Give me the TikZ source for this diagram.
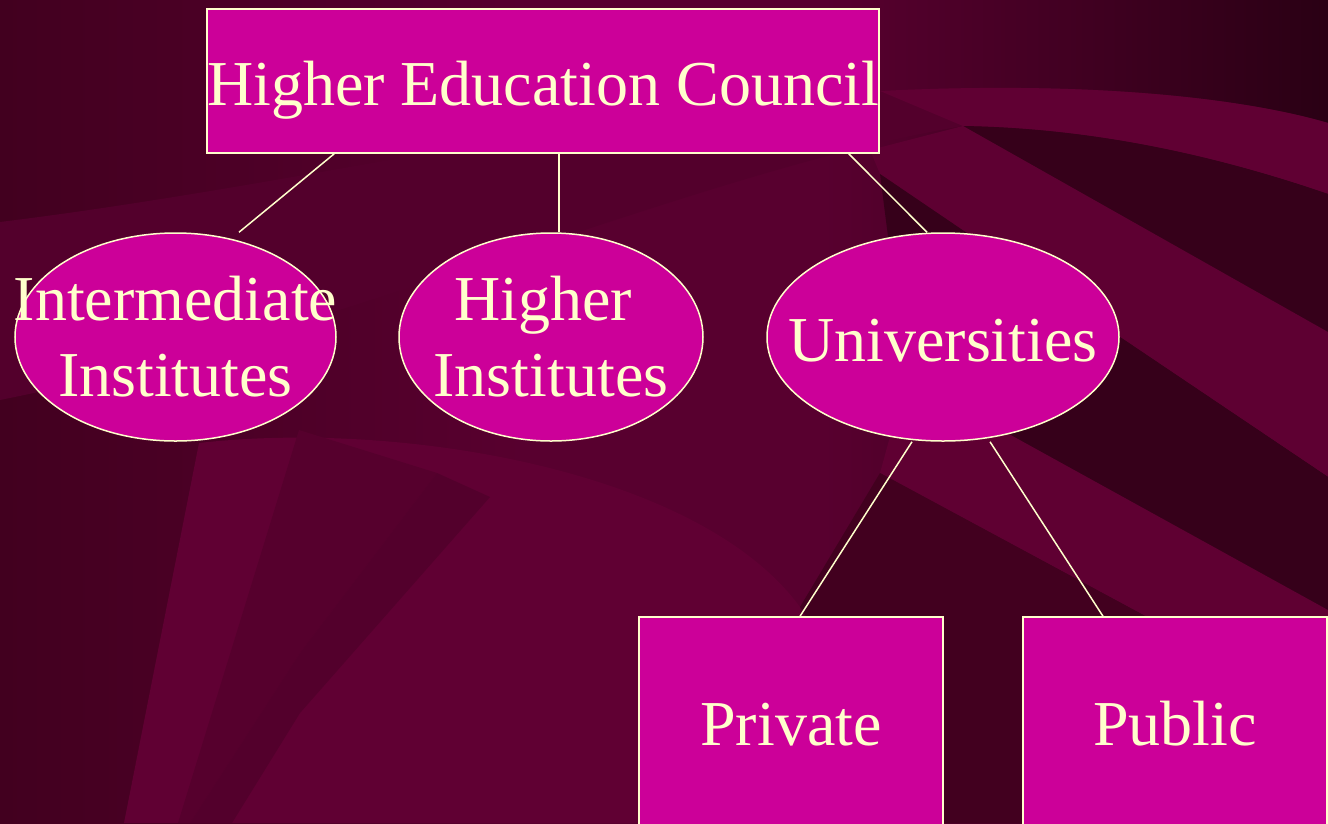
\documentclass[tikz,border=0pt]{standalone}
\usepackage{fontspec}
\setmainfont{Liberation Serif}
\usetikzlibrary{shapes.geometric}
\definecolor{boxfill}{HTML}{CC0099}
\definecolor{cream}{HTML}{FFFFCC}
\definecolor{bgL}{HTML}{42001F}
\definecolor{bgM}{HTML}{58002F}
\definecolor{bgR}{HTML}{2A0014}
\definecolor{bgLite}{HTML}{600033}
\definecolor{bgMid}{HTML}{53002C}
\definecolor{bgDark}{HTML}{36001A}
\pgfdeclarehorizontalshading{bgshade}{100bp}{color(0bp)=(bgL); color(25bp)=(bgL); color(45bp)=(bgM); color(56bp)=(bgM); color(75bp)=(bgR); color(100bp)=(bgR)}
\newcommand\diagfont{\fontsize{64}{76}\selectfont}
\tikzset{
  boxnode/.style={rectangle, draw=cream, line width=1.5pt, fill=boxfill, text=cream, inner sep=0pt, font=\diagfont},
  ovalnode/.style={ellipse, draw=cream, line width=1.5pt, fill=boxfill, inner sep=0pt},
  ovaltext/.style={text=cream, inner sep=0pt, font=\diagfont, align=center},
  link/.style={draw=cream, line width=1.5pt},
}
\begin{document}
\begin{tikzpicture}[x=1pt,y=-1pt]
\useasboundingbox (0,0) rectangle (1328,823);
% ---------- background ----------
\shade[shading=bgshade] (0,0) rectangle (1328,823);
% wide swoosh from the left up to the top right
\fill[bgMid] (0,222) .. controls (300,185) and (600,110) .. (880,91)
  .. controls (1100,80) and (1250,100) .. (1328,123) -- (1328,194)
  .. controls (1200,150) and (1080,128) .. (963,126)
  .. controls (700,170) and (350,330) .. (0,400) -- cycle;
\fill[bgLite] (880,91) .. controls (1100,80) and (1250,100) .. (1328,123) -- (1328,194)
  .. controls (1200,150) and (1080,128) .. (963,126) -- cycle;
% dark wedge under the swoosh
\fill[bgDark] (963,126) .. controls (1080,128) and (1200,150) .. (1328,194) -- (1328,332) -- cycle;
% diagonal light band
\fill[bgLite!85!bgMid] (870,150) -- (963,126) -- (1328,332) -- (1328,477) -- (1120,337) -- (880,174) -- cycle;
% dark stripe
\fill[bgDark] (880,174) -- (1120,337) -- (1328,477) -- (1328,610) -- (1007,433) -- (900,330) -- cycle;
% light band below
\fill[bgLite!90!bgMid] (900,400) -- (1007,433) -- (1328,610) -- (1328,717) -- (1147,617) -- (880,473) -- cycle;
% dark area lower right
\fill[bgL] (880,473) -- (1147,617) -- (1328,717) -- (1328,823) -- (943,823) -- (800,607) -- cycle;
% lower left fan
\fill[bgLite] (199,443) .. controls (400,420) and (700,470) .. (800,607) -- (800,823) -- (124,823) -- cycle;
\fill[bgMid!80!bgLite] (299,430) -- (437,473) -- (300,653) -- (190,823) -- (178,823) -- cycle;
\fill[bgMid] (437,473) -- (490,497) -- (300,713) -- (232,823) -- (190,823) -- (300,653) -- cycle;
% ---------- nodes ----------
\node[boxnode, minimum width=672pt, minimum height=144pt, text height=48pt, text depth=0pt] (hec) at (543,81) {Higher Education Council};
\node[ovalnode, minimum width=321pt, minimum height=208pt] (inter) at (175.5,337) {};
\node[ovaltext] (intertext) at (inter.center) {Intermediate\\Institutes};
\node[ovalnode, minimum width=304pt, minimum height=208pt] (higher) at (551,337) {};
\node[ovaltext] (highertext) at (higher.center) {Higher\hspace*{16pt}\\Institutes};
\node[ovalnode, minimum width=352pt, minimum height=208pt] (univ) at (943,337) {};
\node[ovaltext, text height=48pt, text depth=0pt] (univtext) at (univ.center) {Universities};
\node[boxnode, minimum width=304pt, minimum height=209pt, text height=48pt, text depth=0pt] (private) at (791,721.5) {Private};
\node[boxnode, minimum width=304pt, minimum height=209pt, text height=48pt, text depth=0pt] (public) at (1175,721.5) {Public};
% ---------- connectors ----------
\draw[link] ([xshift=128pt]hec.south west) -- ([xshift=63.5pt]inter.north);
\draw[link] ([xshift=16pt]hec.south) -- ([xshift=8pt]higher.north);
\draw[link] ([xshift=-31pt]hec.south east) -- ([xshift=-16pt]univ.north);
\draw[link] ([xshift=-31pt]univ.south) -- ([xshift=9pt]private.north);
\draw[link] ([xshift=47pt]univ.south) -- ([xshift=-72pt]public.north);
\end{tikzpicture}
\end{document}
